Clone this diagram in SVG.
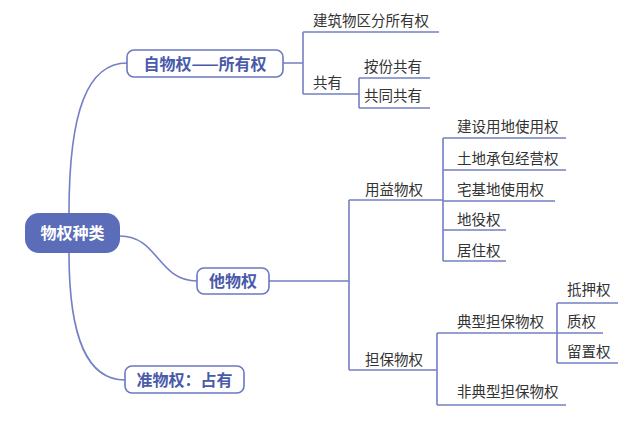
<svg xmlns="http://www.w3.org/2000/svg" width="636" height="422" viewBox="0 0 636 422">
<style>
.ln{fill:none;stroke:#7480c4;stroke-width:1.6}
.box{fill:#fff;stroke:#6a78c0;stroke-width:1.6}
.bt{font-family:"Noto Sans CJK SC","Noto Sans",sans-serif;font-size:16px;font-weight:bold;fill:#4a5aaa;text-anchor:middle}
.t{font-family:"Noto Sans CJK SC","Noto Sans",sans-serif;font-size:14.5px;fill:#333}
</style>
<rect width="636" height="422" fill="#fff"/>
<g id="connectors">
<path class="ln" d="M69 213 C69 110 88 63 127 63"/>
<path class="ln" d="M69 253 C69 340 88 380 125 380"/>
<path class="ln" d="M120 236 C158 236 158 281 197 281"/>
<path class="ln" d="M283 63 H303 M303 32 V94 M303 32 H439 M303 94 H359 M359 78 V108 M359 78 H430 M359 108 H430"/>
<path class="ln" d="M269 281 H349 M349 200 V370 M349 200 H443 M443 138 V261 M443 138 H566 M443 170 H566 M443 201 H555 M443 230 H506 M443 261 H506"/>
<path class="ln" d="M349 370 H437 M437 333 V405 M437 333 H557 M437 405 H566 M557 303 V363 M557 303 H618 M557 333 H603 M557 363 H618"/>
</g>
<g id="root">
<rect x="25" y="213" width="95" height="40" rx="14" fill="#5b6cb8"/>
<text x="72.5" y="239" class="bt" style="fill:#fff">物权种类</text>
</g>
<g id="n-ziwuquan">
<rect class="box" x="127" y="50" width="156" height="27" rx="7"/>
<text x="205" y="69.5" class="bt">自物权——所有权</text>
</g>
<g id="n-tawuquan">
<rect class="box" x="197" y="268" width="72" height="26" rx="7"/>
<text x="233" y="287" class="bt">他物权</text>
</g>
<g id="n-zhunwuquan">
<rect class="box" x="125" y="366" width="119" height="27" rx="7"/>
<text x="184.5" y="385.5" class="bt">准物权：占有</text>
</g>
<g id="n-jianzhu"><text x="313" y="26" class="t">建筑物区分所有权</text></g>
<g id="n-gongyou"><text x="313" y="88" class="t">共有</text></g>
<g id="n-anfen"><text x="364" y="72" class="t">按份共有</text></g>
<g id="n-gongtong"><text x="364" y="101" class="t">共同共有</text></g>
<g id="n-yongyi"><text x="365" y="195" class="t">用益物权</text></g>
<g id="n-jianshe"><text x="457" y="132" class="t">建设用地使用权</text></g>
<g id="n-tudi"><text x="457" y="164" class="t">土地承包经营权</text></g>
<g id="n-zhaiji"><text x="457" y="195" class="t">宅基地使用权</text></g>
<g id="n-diyi"><text x="457" y="225" class="t">地役权</text></g>
<g id="n-juzhu"><text x="457" y="256" class="t">居住权</text></g>
<g id="n-danbao"><text x="365" y="365" class="t">担保物权</text></g>
<g id="n-dianxing"><text x="457" y="327" class="t">典型担保物权</text></g>
<g id="n-feidianxing"><text x="457" y="397" class="t">非典型担保物权</text></g>
<g id="n-diya"><text x="567" y="295" class="t">抵押权</text></g>
<g id="n-zhi"><text x="567" y="327" class="t">质权</text></g>
<g id="n-liuzhi"><text x="567" y="357" class="t">留置权</text></g>
</svg>
